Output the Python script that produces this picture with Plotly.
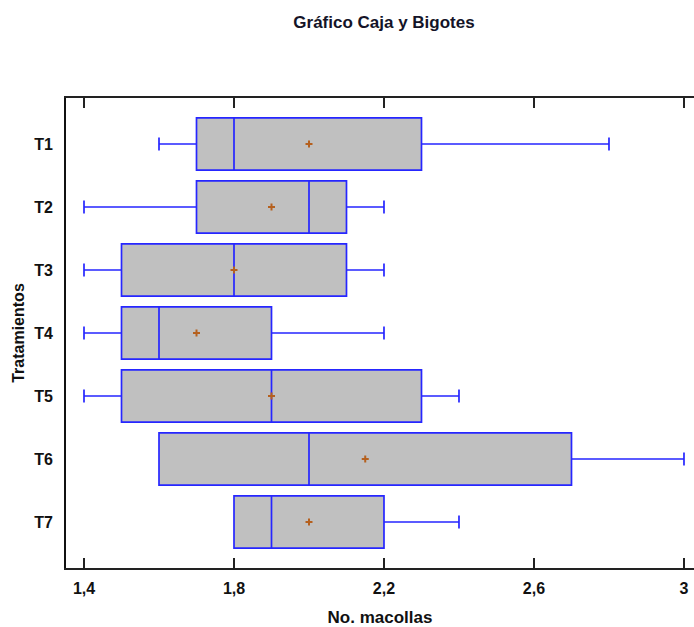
import plotly.graph_objects as go

categories = ["T1", "T2", "T3", "T4", "T5", "T6", "T7"]
lower_whisker = [1.6, 1.4, 1.4, 1.4, 1.4, 1.6, 1.8]
q1_values = [1.7, 1.7, 1.5, 1.5, 1.5, 1.6, 1.8]
median_values = [1.8, 2.0, 1.8, 1.6, 1.9, 2.0, 1.9]
q3_values = [2.3, 2.1, 2.1, 1.9, 2.3, 2.7, 2.2]
upper_whisker = [2.8, 2.2, 2.2, 2.2, 2.4, 3.0, 2.4]
mean_values = [2.0, 1.9, 1.8, 1.7, 1.9, 2.15, 2.0]
x_ticks = [1.4, 1.8, 2.2, 2.6, 3.0]
x_tick_labels = ["1,4", "1,8", "2,2", "2,6", "3"]

fig = go.Figure()
fig.add_trace(go.Box(
    y=categories,
    q1=q1_values,
    median=median_values,
    q3=q3_values,
    lowerfence=lower_whisker,
    upperfence=upper_whisker,
    orientation="h",
    fillcolor="#C0C0C0",
    line=dict(color="#2626FF", width=1.7),
    whiskerwidth=0.25,
    width=0.83,
    boxpoints=False,
    hoverinfo="skip",
    showlegend=False,
))
fig.add_trace(go.Scatter(
    x=mean_values,
    y=categories,
    mode="markers",
    marker=dict(symbol="cross-thin", size=5, line=dict(color="#B5601E", width=2)),
    showlegend=False,
    hoverinfo="skip",
))

font_family = "Liberation Sans, Arial, sans-serif"
fig.update_layout(
    width=694,
    height=627,
    margin=dict(l=66, r=0, t=98, b=59),
    plot_bgcolor="white",
    paper_bgcolor="white",
    font=dict(family=font_family, color="#111111"),
    title=dict(
        text="Gráfico Caja y Bigotes",
        x=384 / 694, xref="container", xanchor="center",
        y=1 - 22 / 627, yref="container", yanchor="middle",
        font=dict(size=17, weight="bold", color="#141428", family=font_family),
    ),
    xaxis=dict(
        automargin=False,
        range=[1.352, 3.0267],
        tickvals=x_ticks,
        ticktext=x_tick_labels,
        ticks="inside",
        ticklen=10,
        tickwidth=1.5,
        tickcolor="#222222",
        showline=True,
        linecolor="#222222",
        linewidth=2,
        mirror="ticks",
        showgrid=False,
        zeroline=False,
        ticklabelstandoff=5,
        tickfont=dict(size=16, weight="bold", family=font_family),
        title=dict(text="No. macollas", font=dict(size=17, weight="bold", family=font_family), standoff=17),
    ),
    yaxis=dict(
        automargin=False,
        categoryorder="array",
        categoryarray=categories,
        range=[6.73, -0.73],
        showline=True,
        linecolor="#111111",
        linewidth=2,
        mirror=False,
        showgrid=False,
        zeroline=False,
        ticks="",
        ticklabelstandoff=8,
        tickfont=dict(size=16, weight="bold", family=font_family),
        title=dict(text="Tratamientos", font=dict(size=16, weight="bold", family=font_family), standoff=6),
    ),
)

fig.write_html(
    "out.html",
    config={"displayModeBar": False},
    post_script="document.body.style.margin='0';document.body.style.overflow='hidden';",
)
